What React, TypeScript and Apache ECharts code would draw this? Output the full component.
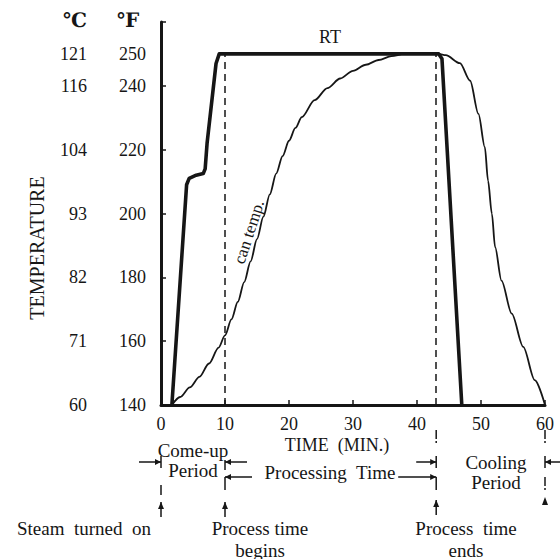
import React, { useEffect, useRef } from 'react';
import * as echarts from 'echarts';

const FONT = '"Liberation Serif", "DejaVu Serif", serif';
const INK = '#161616';

// Axis labels
const fTicks = [140, 160, 180, 200, 220, 240, 250];
const cLabels = ['60', '71', '82', '93', '104', '116', '121'];

// Retort temperature (RT), minutes / °F
const rtTime = [1.7, 4.0, 4.4, 5.5, 6.6, 6.9, 7.2, 8.6, 9.1, 43.4, 43.9, 47.0];
const rtTemp = [140, 209, 211, 212, 212.5, 214, 222, 247, 250, 250, 248.5, 140];

// Can temperature during heating
const canTime = [1.7, 3, 4.5, 6, 7.5, 9, 10, 11, 12, 13, 14, 15, 16, 17, 18, 19, 20, 21, 22, 24, 26, 28, 30, 32, 34, 36, 38, 43.4];
const canTemp = [140, 142.5, 145.5, 148.8, 153, 158, 161.8, 166.8, 172.3, 178.5, 185, 192, 199, 206, 212.5, 218, 222.8, 226.8, 230.2, 235.5, 239.3, 242.3, 244.7, 246.6, 248.1, 249.3, 250, 250];

// Can temperature during cooling
const coolTime = [44.5, 46.7, 48.3, 49.6, 50.6, 51.1, 51.7, 52.2, 53.2, 54.8, 56.6, 58.4, 60];
const coolTemp = [249.6, 247.1, 241.6, 231.2, 220.8, 210.3, 199.9, 189.5, 179, 168.6, 158.2, 147.8, 140];

// Key times: steam on, process begins, process ends, cooling ends
const keyTimes = [0, 10, 43, 60];

export default function App() {
  const ref = useRef<HTMLDivElement>(null);
  useEffect(() => {
    const chart = echarts.init(ref.current!, null, { renderer: 'svg' });
    const canData = canTime.map((t, i) => [t, canTemp[i]]).concat(coolTime.map((t, i) => [t, coolTemp[i]]));
    const rtData = rtTime.map((t, i) => [t, rtTemp[i]]);
    const yBase = { type: 'value', min: 140, max: 260, splitLine: { show: false } };
    chart.setOption({
      animation: false,
      backgroundColor: '#ffffff',
      grid: { left: 161, right: 15, top: 22, bottom: 154 },
      xAxis: {
        type: 'value', min: 0, max: 60, interval: 10,
        splitLine: { show: false },
        axisLine: { lineStyle: { color: INK, width: 3 } },
        axisTick: { inside: true, length: 5, lineStyle: { color: INK, width: 1.5 } },
        axisLabel: { color: INK, fontSize: 18, fontFamily: FONT, margin: 10 },
      },
      yAxis: [
        {
          ...yBase, interval: 10, position: 'left',
          axisLine: { show: true, lineStyle: { color: INK, width: 3 } },
          axisTick: { show: false },
          axisLabel: { color: INK, fontSize: 18, fontFamily: FONT, margin: 15,
            formatter: (v: number) => (fTicks.indexOf(v) >= 0 ? String(v) : '') },
        },
        {
          ...yBase, interval: 10, position: 'left', offset: 59,
          axisLine: { show: false }, axisTick: { show: false },
          axisLabel: { color: INK, fontSize: 18, fontFamily: FONT, margin: 15,
            formatter: (v: number) => { const i = fTicks.indexOf(v); return i >= 0 ? cLabels[i] : ''; } },
        },
        {
          ...yBase, interval: 20, position: 'left',
          axisLine: { show: false },
          axisTick: { show: true, inside: true, length: 5, lineStyle: { color: INK, width: 1.5 } },
          axisLabel: { show: false },
        },
      ],
      series: [
        {
          type: 'line', data: canData, yAxisIndex: 0, showSymbol: false, smooth: 0.3, smoothMonotone: 'x',
          lineStyle: { color: INK, width: 1.8 }, z: 2,
        },
        {
          type: 'line', data: rtData, yAxisIndex: 0, showSymbol: false,
          lineStyle: { color: INK, width: 3.6, join: 'round' }, z: 3,
        },
        {
          type: 'line', data: [], yAxisIndex: 0,
          markLine: {
            silent: true, symbol: ['none', 'none'], label: { show: false },
            lineStyle: { color: INK, width: 1.5, type: [7, 5] },
            data: [keyTimes[1], keyTimes[2]].map((t) => [{ coord: [t, 140] }, { coord: [t, 250] }]),
          },
        },
      ],
    });

    const X = keyTimes.map((t) => chart.convertToPixel({ xAxisIndex: 0 }, t) as number);
    const stroke = { stroke: INK, lineWidth: 1.5 };
    const ln = (x1: number, y1: number, x2: number, y2: number, extra: any = {}) => ({
      type: 'line', shape: { x1, y1, x2, y2 }, style: { ...stroke, ...extra },
    });
    const head = (pts: number[][]) => ({ type: 'polygon', shape: { points: pts }, style: { fill: INK } });
    const arrowR = (xe: number, xs: number, y: number) => [ln(xs, y, xe, y), head([[xe, y], [xe - 6, y - 3], [xe - 6, y + 3]])];
    const arrowL = (xe: number, xs: number, y: number) => [ln(xs, y, xe, y), head([[xe, y], [xe + 6, y - 3], [xe + 6, y + 3]])];
    const arrowU = (x: number, yt: number, yb: number) => [ln(x, yb, x, yt), head([[x, yt], [x - 3, yt + 7], [x + 3, yt + 7]])];
    const bang = (x: number, y1: number, y2: number) => [ln(x, y1, x, y2 - 4), ln(x, y2 - 2, x, y2)];
    const txt = (text: string, x: number, y: number, size = 19, extra: any = {}, weight = 'normal') => ({
      type: 'text', x, y, ...extra,
      style: { text, fill: INK, fontSize: size, fontWeight: weight, fontFamily: FONT, textAlign: 'center', textVerticalAlign: 'middle', align: 'center', verticalAlign: 'middle' },
    });

    const g: any[] = [
      txt('℃', 75, 20, 20, {}, 'bold'),
      txt('℉', 128, 20, 20, {}, 'bold'),
      txt('TEMPERATURE', 37, 248, 20, { rotation: Math.PI / 2 }),
      txt('RT', 330, 37, 18),
      txt('can temp.', 249, 232, 17, { rotation: (72 * Math.PI) / 180 }),
      txt('TIME  (MIN.)', 337, 445, 18),
      txt('Come-up', 193, 450),
      txt('Period', 193, 470),
      txt('Processing  Time', 330, 472),
      txt('Cooling', 496, 462),
      txt('Period', 496, 482),
      txt('Steam  turned  on', 84, 528),
      txt('Process time', 260, 528),
      txt('begins', 260, 550),
      txt('Process  time', 466, 528),
      txt('ends', 466, 550),
      // come-up period
      ...arrowR(X[0], X[0] - 22, 462), ln(X[0], 456, X[0], 468),
      ...arrowL(X[1], X[1] + 22, 462), ln(X[1], 460, X[1], 470),
      // processing time
      ...arrowL(X[1], X[1] + 27, 477), ln(X[1], 477, X[1], 490),
      ...arrowR(X[2], X[2] - 38, 477), ln(X[2], 477, X[2], 490),
      // cooling period
      ...arrowR(X[2], X[2] - 20, 462), ln(X[2], 456, X[2], 468),
      ...arrowL(X[3], X[3] + 15, 462), ln(X[3], 456, X[3], 468),
      // event markers
      ln(X[0], 485, X[0], 495), ...arrowU(X[0], 502, 517),
      ...arrowU(X[1], 502, 517),
      ...bang(X[2], 430, 443), ...arrowU(X[2], 500, 515),
      ...bang(X[3], 430, 443), ...bang(X[3], 477, 490), head([[X[3], 497], [X[3] - 3, 505], [X[3] + 3, 505]]),
    ];
    chart.setOption({ graphic: g });
    return () => chart.dispose();
  }, []);
  return <div ref={ref} style={{ position: 'fixed', left: 0, top: 0, width: 560, height: 559, background: '#fff' }} />;
}
